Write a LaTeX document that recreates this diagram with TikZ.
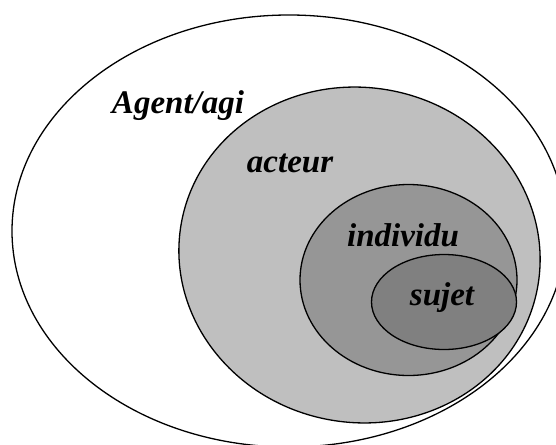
\documentclass[tikz,border=0pt]{standalone}
\usepackage{fontspec}
\setmainfont{Liberation Serif}

\tikzset{
	zone/.style={draw=black,line width=1.3pt},
	etiquette/.style={anchor=base,inner sep=0pt,font=\fontsize{33}{33}\selectfont\bfseries\itshape}
}

\begin{document}
\begin{tikzpicture}[x=1pt,y=-1pt]
			\useasboundingbox (0,0) rectangle (556,444);
			\clip (0,0) rectangle (556,444);
			
			\draw[zone,fill=white] (289,231) ellipse (277pt and 216pt);
			\draw[zone,fill=gray!50!white,rotate around={-10:(359.5,255)}] (359.5,255) ellipse (181pt and 167.5pt);
			\draw[zone,fill=gray!82!white] (408.5,280) ellipse (108.5pt and 95.5pt);
			\draw[zone,fill=gray] (444,302) ellipse (72.5pt and 47.5pt);
			
			\node[etiquette] (agent) at (178,113) {Agent/agi};
			\node[etiquette] (acteur) at (290,172) {acteur};
			\node[etiquette] (individu) at (403,246) {individu};
			\node[etiquette] (sujet) at (442,305) {sujet};
\end{tikzpicture}
\end{document}
